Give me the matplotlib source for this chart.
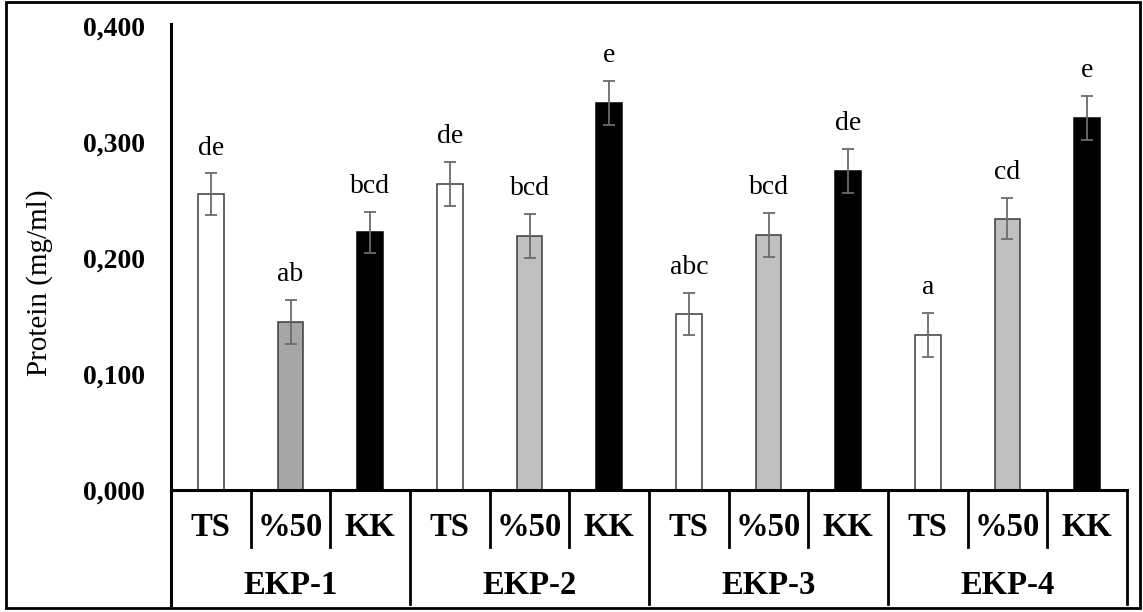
import matplotlib
matplotlib.use("Agg")
import matplotlib.pyplot as plt
from matplotlib.patches import Rectangle
import numpy as np

plt.rcParams['font.family'] = ['Liberation Serif', 'DejaVu Serif']

groups = ["EKP-1", "EKP-2", "EKP-3", "EKP-4"]
treatments = ["TS", "%50", "KK"]
values = [0.255, 0.145, 0.222,
          0.264, 0.219, 0.334,
          0.152, 0.220, 0.275,
          0.134, 0.234, 0.321]
errors = [0.018, 0.019, 0.018,
          0.019, 0.019, 0.019,
          0.018, 0.019, 0.019,
          0.019, 0.018, 0.019]
letters = ["de", "ab", "bcd",
           "de", "bcd", "e",
           "abc", "bcd", "de",
           "a", "cd", "e"]
colors = ["#ffffff", "#a6a6a6", "#000000",
          "#ffffff", "#c0c0c0", "#000000",
          "#ffffff", "#c0c0c0", "#000000",
          "#ffffff", "#c0c0c0", "#000000"]
yticks = [0.0, 0.1, 0.2, 0.3, 0.4]
ytick_labels = ["0,000", "0,100", "0,200", "0,300", "0,400"]

W, H = 1143, 612
fig = plt.figure(figsize=(W / 100, H / 100), dpi=100)
left, right, zero_y, top_y = 171, 1127, 490, 26
ax = fig.add_axes([left / W, 1 - zero_y / H, (right - left) / W, (zero_y - top_y) / H])

n = len(values)
x = np.arange(n)
ax.bar(x, values, width=0.32, color=colors, edgecolor=["#3a3a3a" if c != "#000000" else "#000000" for c in colors],
       linewidth=1.1, zorder=2)
ax.errorbar(x, values, yerr=errors, fmt='none', ecolor="#6b6b6b", elinewidth=1.3,
            capsize=4.5, capthick=1.3, zorder=3)
for xi, v, e, lab in zip(x, values, errors, letters):
    ax.text(xi, v + e + 0.016, lab, ha='center', va='baseline', fontsize=20, color='black')

ax.set_xlim(-0.5, n - 0.5)
ax.set_ylim(0, 0.4)
ax.set_yticks(yticks)
ax.set_yticklabels(ytick_labels, fontsize=20, fontweight='bold')
ax.tick_params(axis='y', length=0, pad=19)
ax.set_xticks([])
for s in ['top', 'right']:
    ax.spines[s].set_visible(False)
ax.spines['left'].set_linewidth(2.2)
ax.spines['bottom'].set_linewidth(2.2)
ax.spines['left'].set_bounds(-0.099, 0.4015)

ax.set_ylabel("Protein (mg/ml)", fontsize=21)
ax.yaxis.set_label_coords((53 - left) / (right - left), (zero_y - 283) / (zero_y - top_y))

# category table below axis
px = 0.4 / (zero_y - top_y)  # data units per pixel
sub_bottom = -(547 - zero_y) * px
grp_bottom = -(604 - zero_y) * px
sub_y = -(527 - zero_y) * px
grp_y = -(585 - zero_y) * px
ng = len(groups)
nt = len(treatments)
for gi in range(ng + 1):
    xb = gi * nt - 0.5
    if gi > 0:
        ax.plot([xb, xb], [0, grp_bottom], color='black', lw=2.0, clip_on=False)
for gi in range(ng):
    for ti in range(1, nt):
        xb = gi * nt + ti - 0.5
        ax.plot([xb, xb], [0, sub_bottom], color='black', lw=2.0, clip_on=False)
    for ti, t in enumerate(treatments):
        ax.text(gi * nt + ti, sub_y, t, ha='center', va='center', fontsize=23.5,
                fontweight='bold', clip_on=False)
    ax.text(gi * nt + (nt - 1) / 2, grp_y, groups[gi], ha='center', va='center',
            fontsize=23.5, fontweight='bold', clip_on=False)

# outer border
fig.patches.append(Rectangle((6 / W, 1 - 608 / H), (1140 - 6) / W, (608 - 2) / H,
                             transform=fig.transFigure, fill=False, edgecolor='black',
                             linewidth=2.0))

fig.savefig("out.png", dpi=100)
